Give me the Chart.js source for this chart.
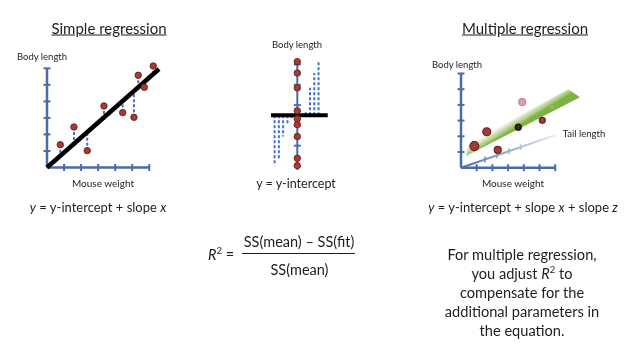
<!DOCTYPE html>
<html lang="en">
<head>
<meta charset="UTF-8">
<title>Simple vs multiple regression</title>
<style>
  body { margin: 0; background: #fff; }
  #wrap { position: relative; width: 640px; height: 360px; overflow: hidden; font-family: Lato, "Liberation Sans", sans-serif; color: #1e1e1e; }
  canvas { position: absolute; left: 0; top: 0; }
  .t { position: absolute; white-space: nowrap; transform: translate(-50%, -50%); line-height: 1; }
  .para { position: absolute; left: 522px; top: 245px; transform: translateX(-50%); text-align: center; font-size: 14.6px; line-height: 19px; white-space: nowrap; }
  .bar { position: absolute; left: 242px; top: 252.5px; width: 113px; height: 1.5px; background: #1e1e1e; }
</style>
</head>
<body>
<div id="wrap">
  <canvas id="simpleCanvas" width="640" height="360"></canvas>
  <canvas id="meanCanvas" width="640" height="360"></canvas>
  <canvas id="multiCanvas" width="640" height="360"></canvas>

  <div class="t" style="left:109px;top:28px;font-size:15px;text-decoration:underline">Simple regression</div>
  <div class="t" style="left:42px;top:57px;font-size:9.5px">Body length</div>
  <div class="t" style="left:103px;top:183px;font-size:10px">Mouse weight</div>
  <div class="t" style="left:98px;top:207px;font-size:13px"><i>y</i> = y-intercept + slope <i>x</i></div>

  <div class="t" style="left:297px;top:45px;font-size:9.5px">Body length</div>
  <div class="t" style="left:296px;top:184px;font-size:12.5px">y = y-intercept</div>

  <div class="t" style="left:525px;top:28px;font-size:15px;text-decoration:underline">Multiple regression</div>
  <div class="t" style="left:457px;top:65px;font-size:9.5px">Body length</div>
  <div class="t" style="left:584px;top:134px;font-size:9.5px">Tail length</div>
  <div class="t" style="left:513px;top:183px;font-size:10px">Mouse weight</div>
  <div class="t" style="left:523px;top:207px;font-size:13px"><i>y</i> = y-intercept + slope <i>x</i> + slope <i>z</i></div>

  <div class="t" style="left:221px;top:254px;font-size:14.5px"><i>R</i><sup style="font-size:9.5px">2</sup> =</div>
  <div class="t" style="left:299px;top:242px;font-size:14.5px">SS(mean) – SS(fit)</div>
  <div class="bar"></div>
  <div class="t" style="left:299.5px;top:270px;font-size:14.5px">SS(mean)</div>

  <div class="para">For multiple regression,<br>you adjust <i>R</i><sup style="font-size:9.5px;line-height:0">2</sup> to<br>compensate for the<br>additional parameters in<br>the equation.</div>
</div>

<script src="https://cdn.jsdelivr.net/npm/chart.js@4/dist/chart.umd.min.js"></script>
<script>
// simple regression: mouse weight (x) against body length (y)
const mouseWeight = [0.78, 1.58, 2.36, 3.34, 4.44, 5.10, 5.35, 5.71, 6.23];
const bodyLength  = [1.38, 2.45, 1.02, 3.72, 3.32, 3.04, 5.58, 4.85, 6.14];
const fitIntercept = 0;
const fitSlope = 0.907;
const fitXMax = 6.57;
const axisTicks = [1, 2, 3, 4, 5, 6];

// multiple regression: mouse weight (x), body length (y), tail length (z)
const multiWeight = [0.85, 1.64, 2.34, 3.65, 3.90, 5.18, 5.81];
const multiBody   = [1.38, 2.29, 1.13, 2.58, 4.18, 3.02, 3.89];
const tailTicks = [2, 3, 4, 5];
const tailAxisLength = 7.9;
const planeOutline = [
  { x: 0.32, y: 0.74 },
  { x: 0.45, y: 1.52 },
  { x: 6.83, y: 4.99 },
  { x: 7.58, y: 4.48 }
];

const axisBlue = '#4a6ca6';
const dashBlue = '#4472c4';
const dotFill = '#a33b37';
const dotEdge = '#6f2420';

function axisSets(color) {
  const top = axisTicks[axisTicks.length - 1];
  return [
    { data: [{ x: 0, y: 0 }, { x: 0, y: top }], showLine: true, borderColor: color, borderWidth: 2.5, pointRadius: 0, order: 5 },
    { data: [{ x: 0, y: 0 }, { x: top, y: 0 }], showLine: true, borderColor: color, borderWidth: 2.5, pointRadius: 0, order: 5 },
    { data: axisTicks.map(v => ({ x: 0, y: v })), pointStyle: 'line', pointRadius: 3.5, pointBorderColor: color, pointBorderWidth: 2, order: 5 },
    { data: axisTicks.map(v => ({ x: v, y: 0 })), pointStyle: 'line', pointRotation: 90, pointRadius: 3.5, pointBorderColor: color, pointBorderWidth: 2, order: 5 }
  ];
}

function makeChart(id, pad, xr, yr, datasets) {
  datasets.forEach(d => { d.clip = false; });
  return new Chart(document.getElementById(id), {
    type: 'scatter',
    data: { datasets },
    options: {
      responsive: false,
      animation: false,
      events: [],
      layout: { padding: pad },
      plugins: { legend: { display: false }, tooltip: { enabled: false } },
      scales: {
        x: { type: 'linear', display: false, min: xr[0], max: xr[1] },
        y: { type: 'linear', display: false, min: yr[0], max: yr[1] }
      }
    }
  });
}

// ---- simple regression ----
const fitAt = x => fitIntercept + fitSlope * x;
const residuals = mouseWeight.map((x, i) => ({
  data: [{ x, y: bodyLength[i] }, { x, y: fitAt(x) }],
  showLine: true, borderColor: dashBlue, borderWidth: 2, borderDash: [3, 2], pointRadius: 0, order: 3
}));
makeChart('simpleCanvas',
  { left: 47, right: 640 - (47 + 7 * 17.05), top: 167.5 - 6.5 * 16.53, bottom: 360 - 167.5 },
  [0, 7], [0, 6.5],
  [
    { data: mouseWeight.map((x, i) => ({ x, y: bodyLength[i] })), pointRadius: 3.2, backgroundColor: dotFill, borderColor: dotEdge, borderWidth: 1, order: 0 },
    { data: [{ x: 0, y: fitAt(0) }, { x: fitXMax, y: fitAt(fitXMax) }], showLine: true, borderColor: '#000', borderWidth: 4.5, pointRadius: 0, order: 1 },
    ...residuals,
    ...axisSets(axisBlue)
  ]);

// ---- y-intercept only: the mean ----
const meanBody = bodyLength.reduce((a, b) => a + b, 0) / bodyLength.length;
const above = bodyLength.filter(v => v > meanBody).sort((a, b) => a - b);
const below = bodyLength.filter(v => v <= meanBody).sort((a, b) => b - a);
const colGap = 1.07;
const bars = [
  ...above.map((v, i) => ({ col: 2.1 + i * colGap, v })),
  ...below.map((v, i) => ({ col: -(1.4 + i * colGap), v }))
];
const leftCol = Math.min(...bars.map(b => b.col));
const rightCol = Math.max(...bars.map(b => b.col));
makeChart('meanCanvas',
  { left: 297.3 - 8 * 4, right: 640 - (297.3 + 10 * 4), top: 186.3 - 7 * 20.3, bottom: 360 - 186.3 },
  [-8, 10], [0, 7],
  [
    { data: bodyLength.map(v => ({ x: 0, y: v })), pointRadius: 3.2, backgroundColor: dotFill, borderColor: dotEdge, borderWidth: 1, order: 0 },
    { data: [{ x: leftCol - 0.9, y: meanBody }, { x: rightCol + 2.3, y: meanBody }], showLine: true, borderColor: '#000', borderWidth: 4, pointRadius: 0, order: 1 },
    ...bars.map(b => ({
      data: [{ x: b.col, y: meanBody }, { x: b.col, y: b.v }],
      showLine: true, borderColor: dashBlue, borderWidth: 2, borderDash: [3, 2], pointRadius: 0, order: 3
    })),
    { data: [{ x: 0, y: 0.8 }, { x: 0, y: 6.2 }], showLine: true, borderColor: axisBlue, borderWidth: 2, pointRadius: 0, order: 4 },
    { data: axisTicks.map(v => ({ x: 0, y: v })), pointStyle: 'line', pointRadius: 3.5, pointBorderColor: axisBlue, pointBorderWidth: 2, order: 4 }
  ]);

// ---- multiple regression ----
const tailDir = { x: 0.76, y: 0.263 };
const tailEnd = { x: tailDir.x * tailAxisLength, y: tailDir.y * tailAxisLength };
function tailGradient(ctx) {
  const ch = ctx.chart;
  if (!ch.chartArea) return axisBlue;
  const xs = ch.scales.x, ys = ch.scales.y;
  const g = ch.ctx.createLinearGradient(xs.getPixelForValue(0), ys.getPixelForValue(0), xs.getPixelForValue(tailEnd.x), ys.getPixelForValue(tailEnd.y));
  g.addColorStop(0, axisBlue);
  g.addColorStop(1, '#e3ebf5');
  return g;
}
// plane shading: white at the upper left, green along the lower edge
function planeGradient(ctx) {
  const ch = ctx.chart;
  if (!ch.chartArea) return '#8dbb4c';
  const xs = ch.scales.x, ys = ch.scales.y;
  const g = ch.ctx.createLinearGradient(xs.getPixelForValue(0.41), ys.getPixelForValue(1.57), xs.getPixelForValue(0.815), ys.getPixelForValue(0.91));
  g.addColorStop(0, 'rgba(255,255,255,0)');
  g.addColorStop(0.45, 'rgba(205,225,180,0.75)');
  g.addColorStop(1, '#80b143');
  return g;
}
const multiRadius = [4.5, 4, 3.5, 3, 3.5, 3, 2];
const multiFill = [dotFill, dotFill, dotFill, '#3a2a10', '#d7a3ad', dotFill, '#9cc06a'];
const multiEdge = [dotEdge, dotEdge, dotEdge, '#1d1608', '#c48b95', dotEdge, '#8ab05a'];
makeChart('multiCanvas',
  { left: 461, right: 640 - (461 + 8 * 15.7), top: 167.7 - 6.5 * 15.7, bottom: 360 - 167.7 },
  [0, 8], [0, 6.5],
  [
    { data: multiWeight.map((x, i) => ({ x, y: multiBody[i] })), pointRadius: multiRadius, backgroundColor: multiFill, borderColor: multiEdge, borderWidth: 1.2, order: 0 },
    { data: planeOutline, showLine: true, fill: 'shape', backgroundColor: planeGradient, borderWidth: 0, pointRadius: 0, order: 2 },
    { data: [{ x: 0, y: 0 }, tailEnd], showLine: true, borderColor: tailGradient, borderWidth: 2, pointRadius: 0, order: 3 },
    { data: tailTicks.map(z => ({ x: tailDir.x * z, y: tailDir.y * z })), pointStyle: 'line', pointRotation: 90, pointRadius: 3, pointBorderColor: ['#7f9ac6', '#93abd0', '#a9bddb', '#bccbe3'], pointBorderWidth: 1.8, order: 3 },
    ...axisSets(axisBlue)
  ]);
</script>
</body>
</html>
